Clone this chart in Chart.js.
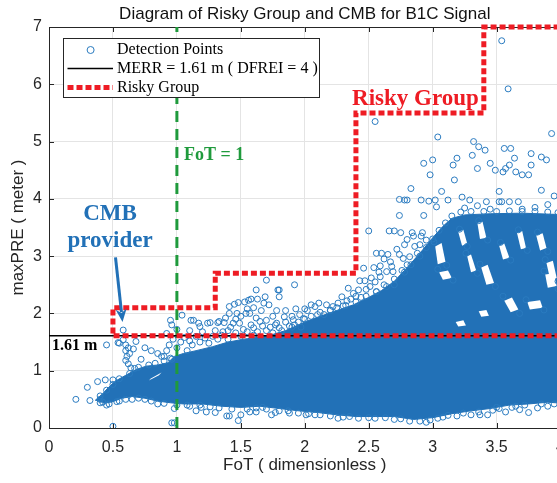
<!DOCTYPE html>
<html>
<head>
<meta charset="utf-8">
<title>Risky Group and CMB for B1C Signal</title>
<script src="https://cdn.jsdelivr.net/npm/chart.js@4.4.0/dist/chart.umd.min.js"></script>
<style>
  html, body { margin: 0; padding: 0; background: #fff; overflow: hidden; }
  #wrap { width: 557px; height: 483px; overflow: hidden; }
  canvas { display: block; }
</style>
</head>
<body>
<div id="wrap"><canvas id="chart" width="575" height="483"></canvas></div>
<script>
// ---- data ----
const xTickValues = [0, 0.5, 1, 1.5, 2, 2.5, 3, 3.5, 4];
const yTickValues = [0, 1, 2, 3, 4, 5, 6, 7];

const merrValue = 1.61;   // MERR (DFREI = 4)
const fotValue = 1;       // FoT threshold

// risky group boundary (bottom edge first, then the staircase)
const riskyX = [4, 0.5, 0.5, 1.3, 1.3, 2.4, 2.4, 3.4, 3.4, 4];
const riskyY = [1.61, 1.61, 2.1, 2.1, 2.7, 2.7, 5.5, 5.5, 7, 7];

// outline of the solid cloud of detection points
const denseOutline = [
  [0.36, 0.48], [0.42, 0.6], [0.47, 0.72], [0.52, 0.82], [0.6, 0.92], [0.68, 1.02],
  [0.76, 1.08], [0.85, 1.1], [0.93, 1.14], [0.98, 1.25], [1.05, 1.3], [1.15, 1.35],
  [1.28, 1.42], [1.4, 1.5], [1.55, 1.56], [1.7, 1.6], [1.85, 1.7], [2.0, 1.85],
  [2.12, 1.95], [2.25, 2.05], [2.38, 2.15], [2.5, 2.28], [2.6, 2.4], [2.7, 2.56],
  [2.8, 2.8], [2.9, 3.05], [3.0, 3.32], [3.08, 3.52], [3.15, 3.66], [3.25, 3.72],
  [3.45, 3.74], [3.7, 3.75], [3.95, 3.73], [4.1, 3.72], [4.1, 0.42], [3.9, 0.45],
  [3.75, 0.42], [3.6, 0.4], [3.45, 0.34], [3.3, 0.3], [3.15, 0.25], [3.0, 0.18],
  [2.85, 0.15], [2.7, 0.2], [2.55, 0.2], [2.4, 0.2], [2.25, 0.23], [2.1, 0.27],
  [1.95, 0.3], [1.8, 0.34], [1.65, 0.38], [1.5, 0.36], [1.35, 0.38], [1.2, 0.42],
  [1.05, 0.42], [0.95, 0.44], [0.85, 0.47], [0.75, 0.52], [0.65, 0.55], [0.57, 0.52],
  [0.5, 0.46], [0.43, 0.43]
];

// empty pockets inside the lattice part of the cloud
const cloudGaps = [
  [[3.2, 3.42], [3.24, 3.46], [3.27, 3.22], [3.23, 3.18]],
  [[3.35, 3.58], [3.39, 3.6], [3.42, 3.32], [3.37, 3.3]],
  [[3.52, 3.18], [3.56, 3.22], [3.6, 2.97], [3.55, 2.94]],
  [[3.66, 3.4], [3.7, 3.44], [3.73, 3.14], [3.69, 3.12]],
  [[3.81, 3.36], [3.86, 3.4], [3.89, 3.14], [3.84, 3.1]],
  [[3.38, 2.8], [3.43, 2.85], [3.48, 2.53], [3.42, 2.5]],
  [[3.27, 3.0], [3.3, 3.03], [3.34, 2.75], [3.3, 2.72]],
  [[3.89, 2.88], [3.94, 2.92], [3.97, 2.62], [3.92, 2.58]],
  [[3.56, 2.22], [3.62, 2.28], [3.67, 2.07], [3.61, 2.02]],
  [[3.74, 2.2], [3.84, 2.23], [3.86, 2.1], [3.76, 2.07]],
  [[3.05, 2.72], [3.12, 2.75], [3.15, 2.62], [3.08, 2.59]],
  [[3.18, 1.85], [3.24, 1.88], [3.26, 1.79], [3.2, 1.77]],
  [[3.36, 2.04], [3.42, 2.06], [3.44, 1.96], [3.38, 1.94]],
  [[3.88, 2.68], [3.95, 2.7], [3.97, 2.48], [3.9, 2.45]],
  [[3.02, 3.17], [3.07, 3.23], [3.1, 2.9], [3.04, 2.86]],
  [[0.78, 0.83], [0.8, 0.87], [0.88, 0.97], [0.86, 0.92]]
];

// individual detection points outside the solid cloud
const highPoints = [
  [2.55, 5.35], [3.04, 5.08], [3.93, 5.14], [3.54, 6.76], [3.59, 5.92],
  [3.32, 5.0], [3.36, 4.91], [3.41, 4.85], [3.31, 4.76], [3.56, 4.88], [3.61, 4.88],
  [3.77, 4.79], [3.85, 4.73], [3.89, 4.68], [3.64, 4.71], [3.19, 4.71], [3.0, 4.68],
  [2.93, 4.62], [3.16, 4.59], [3.45, 4.62], [3.35, 4.53], [3.49, 4.5], [3.55, 4.47],
  [3.57, 4.53], [3.6, 4.59], [3.65, 4.47], [3.7, 4.42], [3.75, 4.42], [3.77, 4.59],
  [2.98, 4.42], [3.17, 4.33], [2.83, 4.18], [3.07, 4.13], [3.23, 4.03], [3.29, 3.98],
  [3.52, 4.13], [3.85, 4.15], [2.74, 3.99], [2.78, 3.98], [2.8, 3.98], [2.91, 3.98],
  [2.97, 3.96], [3.02, 3.98], [3.03, 3.86], [3.12, 3.98], [3.42, 3.95], [3.52, 3.95],
  [3.54, 3.95], [3.6, 3.95], [3.67, 3.95], [3.95, 4.05], [3.9, 3.9], [3.8, 3.85],
  [3.7, 3.82], [3.45, 3.82], [3.35, 3.88], [3.25, 3.84]
];
const slopePoints = [
  [2.74, 3.71], [2.93, 3.71], [2.5, 3.44], [2.66, 3.44], [2.7, 3.44], [2.75, 3.41],
  [2.84, 3.41], [2.92, 3.41], [2.8, 3.29], [2.86, 3.17], [2.91, 3.35], [2.56, 3.05],
  [2.6, 3.05], [2.65, 3.03], [2.74, 3.03], [2.77, 2.96], [2.82, 2.99], [2.46, 2.79],
  [2.54, 2.8], [2.59, 2.83], [2.64, 2.73], [2.69, 2.73], [2.67, 2.9], [2.34, 2.44],
  [2.43, 2.57], [2.47, 2.57], [2.51, 2.47], [2.59, 2.64], [1.8, 2.41], [1.8, 2.29],
  [1.92, 2.5], [1.84, 1.94], [1.91, 1.89], [1.99, 1.91], [1.77, 1.8], [2.11, 2.18],
  [2.17, 2.15], [2.22, 2.12], [2.29, 2.29], [2.38, 2.35], [2.42, 2.41], [2.55, 2.55],
  [2.62, 2.5], [2.7, 2.6], [2.76, 2.75], [2.8, 2.85], [2.88, 3.05], [2.9, 3.2],
  [2.95, 3.28], [2.85, 3.35], [2.62, 2.95], [2.72, 3.12], [2.78, 3.2], [2.68, 2.82],
  [2.58, 2.72], [2.52, 2.62], [2.48, 2.42], [2.56, 2.38], [2.4, 2.3], [2.33, 2.22],
  [2.26, 2.18], [2.2, 2.05], [2.12, 2.02], [2.05, 1.95], [1.96, 1.98], [1.88, 1.78],
  [1.95, 1.85], [2.02, 2.05], [2.08, 2.12], [2.15, 1.98], [2.25, 2.1], [2.32, 2.14],
  [2.36, 2.25], [2.44, 2.28], [1.82, 1.7], [1.9, 1.95], [2.0, 2.08]
];
const midPoints = [
  [1.04, 1.97], [1.11, 1.88], [0.95, 1.88], [1.17, 1.83], [1.24, 1.83], [1.33, 1.86],
  [1.37, 1.84], [1.41, 2.0], [1.47, 2.0], [1.41, 2.12], [1.45, 2.16], [1.48, 2.19],
  [1.53, 2.2], [1.56, 2.23], [1.58, 2.25], [1.54, 2.0], [1.57, 2.0], [1.63, 2.25],
  [1.69, 2.29], [1.62, 2.41], [1.7, 2.58], [1.79, 2.41], [0.96, 1.8], [1.13, 1.88],
  [1.18, 1.77], [1.26, 1.84], [1.65, 1.86], [1.78, 1.83], [1.49, 1.83], [1.44, 1.83],
  [1.32, 1.84], [1.5, 1.95], [1.6, 2.1], [1.66, 2.05], [1.72, 2.15], [1.75, 1.95],
  [1.85, 2.05], [1.52, 1.72], [1.6, 1.75], [1.7, 1.7], [1.4, 1.7], [1.3, 1.7],
  [1.2, 1.68], [1.1, 1.7], [1.0, 1.72], [0.92, 1.65], [1.0, 1.4], [1.03, 1.5],
  [1.06, 1.58], [1.1, 1.52], [1.12, 1.45], [1.15, 1.6], [1.18, 1.5], [1.22, 1.57],
  [1.25, 1.48], [1.28, 1.6], [1.32, 1.55], [1.35, 1.62], [0.97, 1.55], [0.94, 1.45],
  [0.92, 1.35], [0.9, 1.25], [0.95, 1.22], [1.08, 1.35], [1.36, 1.68], [1.42, 1.76],
  [1.46, 1.66], [1.55, 1.68], [1.58, 1.8], [1.63, 1.68], [1.67, 1.78], [1.73, 1.76],
  [1.8, 1.75], [1.85, 1.85], [1.92, 1.8], [1.97, 1.76], [1.38, 1.92], [1.46, 1.9],
  [1.62, 1.92], [1.7, 1.88], [1.78, 2.05], [1.93, 2.08], [2.05, 2.15], [1.55, 2.08],
  [1.68, 2.18]
];
const cmbPoints = [
  [0.58, 1.71], [0.55, 1.48], [0.58, 1.54], [0.45, 1.45], [0.54, 1.49], [0.6, 1.45],
  [0.62, 1.4], [0.6, 1.35], [0.63, 1.3], [0.61, 1.25], [0.6, 1.18], [0.62, 1.12],
  [0.64, 1.05], [0.66, 1.38], [0.68, 1.51], [0.67, 1.04], [0.72, 1.2], [0.75, 1.4],
  [0.8, 1.35], [0.85, 1.3], [0.88, 1.25], [0.21, 0.5], [0.3, 0.71], [0.32, 0.48],
  [0.38, 0.81], [0.44, 0.84], [0.5, 0.03], [0.5, 0.84]
];
const lowPoints = [
  [0.98, 0.34], [0.96, 0.09], [0.98, 0.09], [1.19, 0.36], [1.23, 0.28], [1.3, 0.27],
  [1.39, 0.21], [1.41, 0.21], [1.5, 0.23], [1.57, 0.28], [1.62, 0.28], [1.67, 0.36],
  [1.74, 0.23], [1.77, 0.27], [1.48, 0.13], [1.88, 0.26], [2.01, 0.23], [2.08, 0.23],
  [2.26, 0.17], [3.04, 0.17], [3.19, 0.21], [3.3, 0.23], [3.37, 0.23], [3.43, 0.23],
  [3.47, 0.31], [3.52, 0.34], [3.57, 0.28], [3.62, 0.36], [3.68, 0.32], [3.75, 0.27],
  [3.82, 0.35], [3.9, 0.38], [2.9, 0.12], [2.95, 0.1], [2.7, 0.15], [2.5, 0.18],
  [2.35, 0.2], [1.15, 0.3], [1.08, 0.4], [0.85, 0.42], [0.75, 0.5], [0.65, 0.5],
  [0.55, 0.47], [0.45, 0.4], [0.42, 0.45], [0.4, 0.5]
];
// circles sitting on the rim of the solid cloud
const rimPoints = [
  [2.7, 2.5], [2.78, 2.72], [2.83, 2.85], [2.9, 3.0], [2.95, 3.15], [3.0, 3.3],
  [3.05, 3.45], [3.1, 3.58], [3.15, 3.7], [3.22, 3.77], [3.3, 3.78], [3.4, 3.78],
  [3.5, 3.78], [3.6, 3.79], [3.7, 3.78], [3.8, 3.78], [3.9, 3.77], [3.98, 3.76],
  [0.4, 0.44], [0.47, 0.42], [0.53, 0.46], [0.6, 0.5], [0.7, 0.52], [0.8, 0.47],
  [0.9, 0.43], [1.0, 0.4], [1.1, 0.38], [1.18, 0.4], [1.26, 0.37], [1.33, 0.35],
  [1.43, 0.33], [1.55, 0.33], [1.62, 0.35], [1.7, 0.33], [1.8, 0.3], [1.87, 0.3],
  [1.95, 0.26], [2.03, 0.25], [2.12, 0.23], [2.2, 0.21], [2.3, 0.19], [2.42, 0.17],
  [2.55, 0.17], [2.63, 0.18], [2.75, 0.16], [2.82, 0.12], [2.98, 0.14], [3.08, 0.19],
  [3.12, 0.22], [3.24, 0.26], [3.36, 0.28], [3.5, 0.36], [3.65, 0.38], [3.72, 0.4],
  [3.85, 0.42], [3.95, 0.42], [0.4, 0.56], [0.45, 0.66], [0.5, 0.76], [0.55, 0.86],
  [0.63, 0.95], [0.7, 1.06], [0.78, 1.1], [0.83, 1.13], [0.9, 1.17], [0.96, 1.2],
  [1.4, 1.55], [1.5, 1.6], [1.6, 1.62], [1.75, 1.66], [1.9, 1.76], [2.0, 1.9],
  [2.1, 1.98], [2.2, 2.06], [2.3, 2.13], [2.4, 2.2], [2.48, 2.3], [2.56, 2.38],
  [2.64, 2.47]
];
// circles around the pockets of the lattice
const latticePoints = [
  [3.21, 3.47], [3.27, 3.17], [3.36, 3.62], [3.43, 3.28], [3.53, 3.24], [3.61, 2.93],
  [3.67, 3.46], [3.74, 3.1], [3.82, 3.42], [3.9, 3.08], [3.37, 2.86], [3.49, 2.47],
  [3.26, 3.05], [3.35, 2.7], [3.88, 2.94], [3.98, 2.56], [3.55, 2.3], [3.68, 2.0],
  [3.73, 2.24], [3.87, 2.06], [3.04, 2.77], [3.16, 2.58], [3.01, 3.25], [3.11, 2.84],
  [3.87, 2.74], [3.98, 2.43]
];

// ---- styles ----
const blue = '#2271b7';
const pointBlue = '#2a7bc0';
const riskyRed = '#ee1c24';
const fotGreen = '#1f9a3c';
const sans = '"Liberation Sans", Arial, sans-serif';
const serif = '"Liberation Serif", "Times New Roman", serif';

const toXY = arr => arr.map(([x, y]) => ({x, y}));

const detectionPoints = toXY([].concat(
  highPoints, slopePoints, midPoints, cmbPoints, lowPoints, rimPoints, latticePoints));

const datasets = [
  {
    label: 'Risky Group',
    data: riskyX.map((x, i) => ({x, y: riskyY[i]})),
    showLine: true, pointRadius: 0, borderColor: riskyRed, borderWidth: 5,
    borderDash: [6, 3], borderCapStyle: 'butt', borderJoinStyle: 'miter',
    fill: false, clip: false, order: 1
  },
  {
    label: 'MERR',
    data: [{x: 0, y: merrValue}, {x: 4, y: merrValue}],
    showLine: true, pointRadius: 0, borderColor: '#000', borderWidth: 1.5, fill: false, order: 2
  },
  {
    label: 'FoT',
    data: [{x: fotValue, y: 0}, {x: fotValue, y: 7}],
    showLine: true, pointRadius: 0, borderColor: fotGreen, borderWidth: 3,
    borderDash: [11, 7], borderCapStyle: 'butt', fill: false, order: 3
  },
  {
    label: 'Detection Points',
    data: detectionPoints,
    pointRadius: 3, pointBorderWidth: 1, borderColor: pointBlue,
    backgroundColor: 'rgba(0,0,0,0)', order: 4
  }
];

cloudGaps.forEach(g => datasets.push({
  data: toXY(g), showLine: true, pointRadius: 0, tension: 0,
  borderColor: 'rgba(0,0,0,0)', borderWidth: 1, backgroundColor: '#fff', fill: 'shape', order: 5
}));

datasets.push({
  data: toXY(denseOutline), showLine: true, pointRadius: 0, tension: 0,
  borderColor: blue, borderWidth: 1, backgroundColor: blue, fill: 'shape', order: 6
});

// ---- titles, annotations, legend ----
function txt(ctx, s, x, y, font, color, align, base) {
  ctx.font = font;
  ctx.fillStyle = color;
  ctx.textAlign = align || 'left';
  ctx.textBaseline = base || 'alphabetic';
  ctx.fillText(s, x, y);
}

const overlay = {
  id: 'overlay',
  beforeDatasetsDraw(chart) {
    const {ctx, chartArea: a, scales: {x, y}} = chart;
    ctx.save();
    ctx.strokeStyle = '#262626';
    ctx.lineWidth = 1;
    ctx.beginPath();
    ctx.moveTo(a.left, a.top + 0.5);
    ctx.lineTo(a.right, a.top + 0.5);
    xTickValues.forEach(v => {
      const px = Math.round(x.getPixelForValue(v)) + 0.5;
      ctx.moveTo(px, a.bottom); ctx.lineTo(px, a.bottom - 5);
      ctx.moveTo(px, a.top); ctx.lineTo(px, a.top + 5);
    });
    yTickValues.forEach(v => {
      const py = Math.round(y.getPixelForValue(v)) + 0.5;
      ctx.moveTo(a.left, py); ctx.lineTo(a.left + 5, py);
    });
    ctx.stroke();
    ctx.restore();
  },
  afterDatasetsDraw(chart) {
    const {ctx, chartArea: a, scales: {x, y}} = chart;
    const X = v => x.getPixelForValue(v);
    const Y = v => y.getPixelForValue(v);
    ctx.save();

    // title
    txt(ctx, 'Diagram of Risky Group and CMB for B1C Signal', (a.left + a.right) / 2, 14.5,
      '17px ' + sans, '#111', 'center', 'middle');

    // annotations
    txt(ctx, 'FoT = 1', X(1.055), Y(4.76), 'bold 18px ' + serif, fotGreen, 'left', 'middle');
    txt(ctx, 'Risky Group', X(2.37), Y(5.64), 'bold 23px ' + serif, riskyRed, 'left');
    txt(ctx, 'CMB', X(0.477), Y(3.63), 'bold 23px ' + serif, blue, 'center');
    txt(ctx, 'provider', X(0.477), Y(3.16), 'bold 23px ' + serif, blue, 'center');
    txt(ctx, '1.61 m', X(0.023), Y(1.36), 'bold 16px ' + serif, '#000', 'left');

    // arrow to the CMB provider point
    const x0 = X(0.52), y0 = Y(2.98), x1 = X(0.575), y1 = Y(1.85);
    const ang = Math.atan2(y1 - y0, x1 - x0);
    const head = 13, half = 5.5;
    const bx = x1 - head * Math.cos(ang), by = y1 - head * Math.sin(ang);
    ctx.strokeStyle = blue;
    ctx.fillStyle = blue;
    ctx.lineWidth = 3;
    ctx.beginPath();
    ctx.moveTo(x0, y0);
    ctx.lineTo(bx + 3 * Math.cos(ang), by + 3 * Math.sin(ang));
    ctx.stroke();
    ctx.beginPath();
    ctx.moveTo(x1, y1);
    ctx.lineTo(bx - half * Math.sin(ang), by + half * Math.cos(ang));
    ctx.lineTo(bx + 4 * Math.cos(ang), by + 4 * Math.sin(ang));
    ctx.lineTo(bx + half * Math.sin(ang), by - half * Math.cos(ang));
    ctx.closePath();
    ctx.fill();

    // legend box
    const lx = 63, ly = 38, lw = 256, lh = 59;
    ctx.fillStyle = '#fff';
    ctx.fillRect(lx, ly, lw, lh);
    ctx.strokeStyle = '#262626';
    ctx.lineWidth = 1;
    ctx.strokeRect(lx + 0.5, ly + 0.5, lw, lh);

    const rows = [50, 68.5, 87.5];
    ctx.strokeStyle = pointBlue;
    ctx.beginPath();
    ctx.arc(90.6, rows[0], 3.5, 0, Math.PI * 2);
    ctx.stroke();

    ctx.strokeStyle = '#000';
    ctx.lineWidth = 1.5;
    ctx.beginPath();
    ctx.moveTo(67.5, rows[1]); ctx.lineTo(113, rows[1]);
    ctx.stroke();

    ctx.strokeStyle = riskyRed;
    ctx.lineWidth = 5;
    ctx.setLineDash([6, 3]);
    ctx.beginPath();
    ctx.moveTo(67.5, rows[2]); ctx.lineTo(113, rows[2]);
    ctx.stroke();
    ctx.setLineDash([]);

    const lf = '16px ' + serif;
    txt(ctx, 'Detection Points', 117, rows[0], lf, '#000', 'left', 'middle');
    txt(ctx, 'MERR = 1.61 m ( DFREI = 4 )', 117, rows[1], lf, '#000', 'left', 'middle');
    txt(ctx, 'Risky Group', 117, rows[2], lf, '#000', 'left', 'middle');

    ctx.restore();
  }
};

const tickFont = {family: sans, size: 16};
const titleFont = {family: sans, size: 17};

new Chart(document.getElementById('chart'), {
  type: 'scatter',
  data: {datasets},
  options: {
    responsive: false,
    animation: false,
    layout: {padding: {top: 27, right: 14, left: 0, bottom: 0}},
    plugins: {legend: {display: false}, tooltip: {enabled: false}, title: {display: false}},
    scales: {
      x: {
        type: 'linear', min: 0, max: 4,
        afterBuildTicks: s => { s.ticks = xTickValues.map(v => ({value: v})); },
        afterFit: s => { s.height = 55; },
        ticks: {font: tickFont, color: '#262626', padding: 10, maxRotation: 0, autoSkip: false,
          callback: v => String(v)},
        grid: {color: '#e4e4e4', drawTicks: false},
        border: {color: '#262626', width: 1},
        title: {display: true, text: 'FoT ( dimensionless )', font: titleFont, color: '#262626',
          padding: {top: 0, bottom: 7}}
      },
      y: {
        type: 'linear', min: 0, max: 7,
        afterBuildTicks: s => { s.ticks = yTickValues.map(v => ({value: v})); },
        afterFit: s => { s.width = 49; },
        ticks: {font: tickFont, color: '#262626', padding: 7, autoSkip: false,
          callback: v => String(v)},
        grid: {color: '#e4e4e4', drawTicks: false},
        border: {color: '#262626', width: 1},
        title: {display: true, text: 'maxPRE ( meter )', font: titleFont, color: '#262626',
          padding: {top: 8, bottom: 0}}
      }
    }
  },
  plugins: [overlay]
});
</script>
</body>
</html>
